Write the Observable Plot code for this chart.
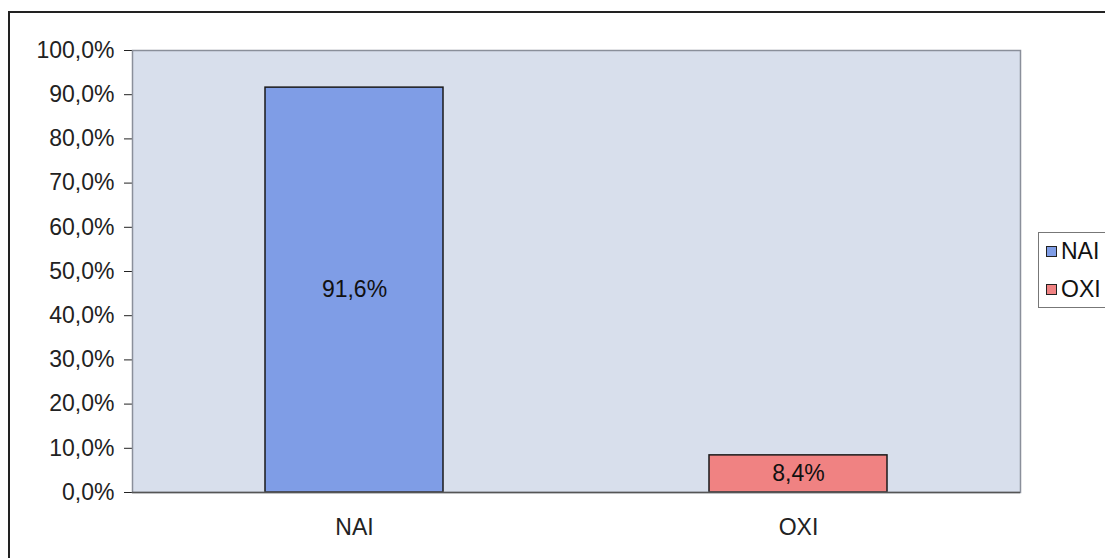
<!DOCTYPE html>
<html>
<head>
<meta charset="utf-8">
<script src="https://cdn.jsdelivr.net/npm/d3@7"></script>
<script src="https://cdn.jsdelivr.net/npm/@observablehq/plot@0.6"></script>
<style>
  html, body { margin: 0; padding: 0; background: #fff; overflow: hidden; }
  #wrap { position: relative; width: 1105px; height: 558px; font-family: "Liberation Sans", Arial, sans-serif; overflow: hidden; }
  #frame { position: absolute; left: 8px; top: 11px; width: 1110px; height: 560px; border: 2px solid #222; box-sizing: border-box; pointer-events: none; }
  #legend { position: absolute; left: 1038px; top: 232px; width: 90px; height: 76px; border: 1px solid #777; background: #fff; box-sizing: border-box; font-size: 23px; color: #111; }
  .item { position: absolute; left: 7px; display: flex; align-items: center; }
  .sw { width: 9px; height: 9px; border: 1.5px solid #222; margin-right: 4px; }
</style>
</head>
<body>
<div id="wrap"></div>
<script>
const categories = ["NAI", "OXI"];
const values = [91.6, 8.4];
const colors = ["#7f9de6", "#f08282"];
const yTicks = [0, 10, 20, 30, 40, 50, 60, 70, 80, 90, 100];

const data = categories.map((c, i) => ({cat: c, value: values[i], color: colors[i]}));
const fmt = d => d.toFixed(1).replace(".", ",") + "%";

const chart = Plot.plot({
  width: 1105,
  height: 558,
  marginLeft: 132,
  marginRight: 85,
  marginTop: 50,
  marginBottom: 66,
  style: { fontFamily: "'Liberation Sans', Arial, sans-serif", fontSize: "23px", color: "#222", background: "transparent" },
  x: { domain: categories, paddingInner: 0.6, paddingOuter: 0.3, label: null, tickSize: 0, tickPadding: 26 },
  y: { domain: [0, 100], ticks: yTicks, tickFormat: fmt, label: null, tickSize: 8, tickPadding: 10 },
  marks: [
    Plot.frame({ fill: "#d8dfec", stroke: "none" }),
    Plot.barY(data, { x: "cat", y: "value", fill: d => d.color, stroke: "#1a1a1a", strokeWidth: 1.5 }),
    Plot.text(data, { x: "cat", y: d => d.value / 2, text: d => fmt(d.value), fontSize: 23, fill: "#111" }),
    Plot.frame({ stroke: "#8a8f9a", strokeWidth: 1.5 }),
    Plot.ruleY([0], { stroke: "#555", strokeWidth: 1.5 })
  ]
});

const wrap = document.getElementById("wrap");
wrap.appendChild(chart);
chart.style.position = "absolute";
chart.style.left = "0px";
chart.style.top = "0px";

const frame = document.createElement("div");
frame.id = "frame";
wrap.appendChild(frame);

const legend = document.createElement("div");
legend.id = "legend";
categories.forEach((c, i) => {
  const it = document.createElement("div");
  it.className = "item";
  it.style.top = (5 + i * 38) + "px";
  const sw = document.createElement("div");
  sw.className = "sw";
  sw.style.background = colors[i];
  const t = document.createElement("span");
  t.textContent = c;
  it.appendChild(sw);
  it.appendChild(t);
  legend.appendChild(it);
});
wrap.appendChild(legend);
</script>
</body>
</html>
